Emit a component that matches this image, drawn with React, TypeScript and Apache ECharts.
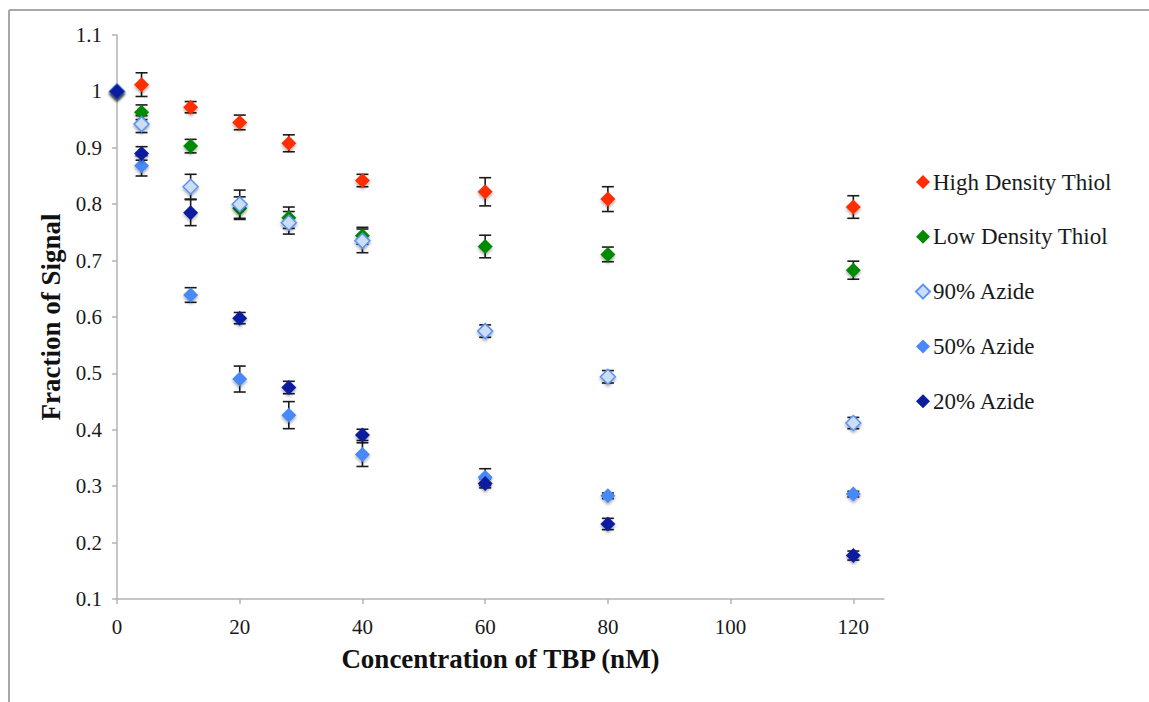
import React, { useEffect, useRef } from "react";
import * as echarts from "echarts";

const xValues = [0, 4, 12, 20, 28, 40, 60, 80, 120];
const highThiol = [1.0, 1.012, 0.972, 0.945, 0.908, 0.842, 0.822, 0.809, 0.795];
const highThiolErr = [0, 0.021, 0.01, 0.013, 0.015, 0.011, 0.025, 0.022, 0.02];
const lowThiol = [1.0, 0.963, 0.903, 0.793, 0.776, 0.744, 0.725, 0.711, 0.683];
const lowThiolErr = [0, 0.013, 0.012, 0.02, 0.019, 0.015, 0.02, 0.013, 0.016];
const azide90 = [1.0, 0.942, 0.831, 0.8, 0.767, 0.735, 0.575, 0.494, 0.412];
const azide90Err = [0, 0.015, 0.022, 0.025, 0.02, 0.021, 0.011, 0.011, 0.01];
const azide50 = [1.0, 0.868, 0.639, 0.49, 0.426, 0.356, 0.316, 0.283, 0.286];
const azide50Err = [0, 0.018, 0.013, 0.023, 0.024, 0.021, 0.015, 0.005, 0.005];
const azide20 = [1.0, 0.89, 0.785, 0.598, 0.475, 0.391, 0.305, 0.233, 0.177];
const azide20Err = [0, 0.012, 0.023, 0.01, 0.011, 0.01, 0.008, 0.01, 0.008];

const xTicks = [0, 20, 40, 60, 80, 100, 120];

const seriesDefs = [
  { name: "High Density Thiol", values: highThiol, errs: highThiolErr, fill: "#FF2E00", stroke: "#FF2E00" },
  { name: "Low Density Thiol", values: lowThiol, errs: lowThiolErr, fill: "#008A00", stroke: "#008A00" },
  { name: "90% Azide", values: azide90, errs: azide90Err, fill: "#CCDDF6", stroke: "#5A92F5" },
  { name: "50% Azide", values: azide50, errs: azide50Err, fill: "#4A88F7", stroke: "#4A88F7" },
  { name: "20% Azide", values: azide20, errs: azide20Err, fill: "#0A1F9E", stroke: "#0A1F9E" },
];

const FONT = "'Liberation Serif', 'Times New Roman', serif";

export default function App() {
  const ref = useRef<HTMLDivElement>(null);

  useEffect(() => {
    if (!ref.current) return;
    const chart = echarts.init(ref.current, null, { renderer: "svg" });

    const errData: number[][] = [];
    seriesDefs.forEach((s) => {
      xValues.forEach((x, i) => {
        if (s.errs[i] > 0) errData.push([x, s.values[i], s.errs[i]]);
      });
    });

    const series: any[] = [
      {
        type: "custom",
        name: "errors",
        z: 1,
        silent: true,
        data: errData,
        encode: { x: 0, y: 1 },
        renderItem: (params: any, api: any) => {
          const x = api.value(0);
          const y = api.value(1);
          const e = api.value(2);
          const top = api.coord([x, y + e]);
          const bot = api.coord([x, y - e]);
          const hw = 6;
          const style = { stroke: "#1a1a1a", lineWidth: 1.6 };
          return {
            type: "group",
            children: [
              { type: "line", shape: { x1: top[0], y1: top[1], x2: bot[0], y2: bot[1] }, style },
              { type: "line", shape: { x1: top[0] - hw, y1: top[1], x2: top[0] + hw, y2: top[1] }, style },
              { type: "line", shape: { x1: bot[0] - hw, y1: bot[1], x2: bot[0] + hw, y2: bot[1] }, style },
            ],
          };
        },
      },
      ...seriesDefs.map((s, k) => ({
        type: "scatter",
        name: s.name,
        z: 2 + k,
        symbol: "diamond",
        symbolSize: 15,
        data: xValues.map((x, i) => [x, s.values[i]]),
        itemStyle: {
          color: s.fill,
          borderColor: s.stroke,
          borderWidth: s.fill !== s.stroke ? 1.5 : 0,
          shadowBlur: 3,
          shadowColor: "rgba(0,0,0,0.35)",
          shadowOffsetY: 2,
          opacity: 1,
        },
      })),
    ];

    chart.setOption({
      animation: false,
      backgroundColor: "#ffffff",
      grid: { left: 117, top: 35, width: 767, height: 564, containLabel: false },
      legend: {
        orient: "vertical",
        left: 910,
        top: 165,
        itemWidth: 14,
        itemHeight: 14,
        itemGap: 30.8,
        data: seriesDefs.map((s) => s.name),
        textStyle: { fontFamily: FONT, fontSize: 23, lineHeight: 24, color: "#1a1a1a", padding: [0, 0, 0, -2] },
        selectedMode: false,
      },
      xAxis: {
        type: "value",
        min: 0,
        max: 125,
        interval: 20,
        name: "Concentration of TBP (nM)",
        nameLocation: "middle",
        nameGap: 46,
        nameTextStyle: { fontFamily: FONT, fontSize: 27, fontWeight: "bold", color: "#111" },
        axisLine: { show: true, lineStyle: { color: "#b3b3b3", width: 1.5 } },
        axisTick: { show: true, inside: false, length: 5, lineStyle: { color: "#b3b3b3", width: 1.5 }, customValues: xTicks },
        axisLabel: { fontFamily: FONT, fontSize: 21, color: "#1a1a1a", margin: 17, customValues: xTicks },
        splitLine: { show: false },
      },
      yAxis: {
        type: "value",
        min: 0.1,
        max: 1.1,
        interval: 0.1,
        name: "Fraction of Signal",
        nameLocation: "middle",
        nameGap: 44,
        nameRotate: 90,
        nameTextStyle: { fontFamily: FONT, fontSize: 27, fontWeight: "bold", color: "#111" },
        axisLine: { show: true, lineStyle: { color: "#b3b3b3", width: 1.5 } },
        axisTick: { show: true, inside: false, length: 5, lineStyle: { color: "#b3b3b3", width: 1.5 } },
        axisLabel: {
          fontFamily: FONT,
          fontSize: 21,
          color: "#1a1a1a",
          margin: 15,
          formatter: (v: number) => String(parseFloat(v.toFixed(1))),
        },
        splitLine: { show: false },
      },
      graphic: [
        { type: "line", shape: { x1: 9, y1: 10, x2: 1149, y2: 10 }, style: { stroke: "#a8a8a8", lineWidth: 2 } },
        { type: "line", shape: { x1: 9, y1: 10, x2: 9, y2: 702 }, style: { stroke: "#a8a8a8", lineWidth: 2 } },
      ],
      series,
    });

    return () => chart.dispose();
  }, []);

  return (
    <div
      ref={ref}
      style={{ position: "fixed", left: 0, top: 0, width: 1149, height: 702, background: "#fff" }}
    />
  );
}
